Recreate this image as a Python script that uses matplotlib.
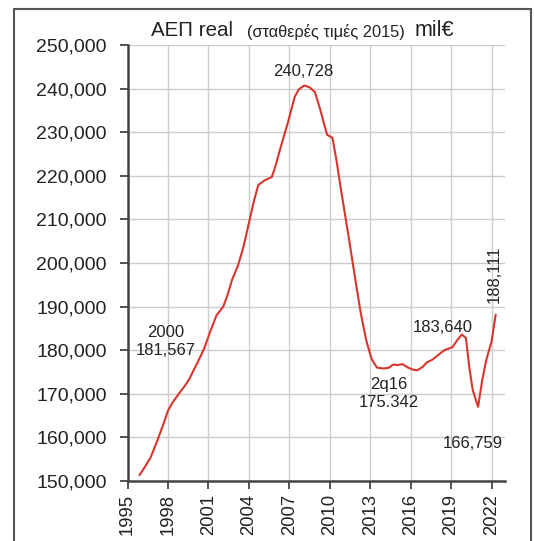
import numpy as np
import matplotlib
matplotlib.use("Agg")
import matplotlib.pyplot as plt
from matplotlib.patches import Rectangle
from matplotlib.ticker import FuncFormatter

plt.rcParams['font.family'] = ['Liberation Sans', 'DejaVu Sans']

# real GDP, constant 2015 prices, mil euro
years = [1995.9, 1996.3, 1996.7, 1997.2, 1997.6, 1998.0, 1998.3, 1998.8, 1999.3, 1999.6,
         2000.0, 2000.4, 2000.7, 2001.1, 2001.6, 2002.1, 2002.4, 2002.75, 2003.2, 2003.6,
         2004.1, 2004.4, 2004.7, 2005.2, 2005.7, 2006.0, 2006.3, 2006.9, 2007.4, 2007.7,
         2008.1, 2008.5, 2008.9, 2009.3, 2009.8, 2010.2, 2010.5, 2010.8, 2011.4, 2011.9,
         2012.3, 2012.7, 2013.1, 2013.5, 2014.0, 2014.4, 2014.7, 2015.0, 2015.4, 2015.8,
         2016.2, 2016.5, 2016.9, 2017.2, 2017.6, 2018.0, 2018.5, 2019.1, 2019.5, 2019.8,
         2020.1, 2020.35, 2020.6, 2021.0, 2021.3, 2021.6, 2022.0, 2022.3]
gdp = [151400, 153300, 155300, 159200, 162500, 166100, 167800, 170000, 172000, 173500,
       176000, 178500, 180500, 184000, 188000, 190000, 192500, 196100, 199500, 203700,
       210500, 214500, 217900, 219000, 219700, 222500, 225900, 232300, 238100, 239800,
       240700, 240300, 239200, 235100, 229400, 228700, 223500, 217400, 206000, 196100,
       188500, 182300, 178000, 176000, 175800, 176000, 176700, 176600, 176800, 176000,
       175500, 175400, 176200, 177200, 177800, 178800, 180000, 180700, 182500, 183600,
       182800, 176000, 170900, 167000, 173000, 177700, 182000, 188100]

xticks = list(range(1995, 2023, 3))
yticks = list(range(150000, 250001, 10000))

fig = plt.figure(figsize=(5.34, 5.41), dpi=100)
ax = fig.add_axes([0.2388, 0.1109, 0.707, 0.806])

ax.plot(years, gdp, color='#d8362c', lw=1.5)

ax.set_xlim(1995, 2023)
ax.set_ylim(150000, 250000)
ax.set_xticks(xticks)
ax.set_yticks(yticks)
ax.yaxis.set_major_formatter(FuncFormatter(lambda v, p: f'{int(v):,}'))
ax.tick_params(axis='y', labelsize=14, colors='#333333', length=6, width=1.2,
               pad=9, labelcolor='#222222')
ax.tick_params(axis='x', labelsize=13.3, colors='#333333', length=6, width=1.2,
               labelrotation=90, labelcolor='#222222')
ax.grid(True, color='#cccccc', lw=1.0)
ax.set_axisbelow(True)
for s in ['top', 'right']:
    ax.spines[s].set_visible(False)
for s in ['left', 'bottom']:
    ax.spines[s].set_color('#444444')
    ax.spines[s].set_linewidth(1.8)

tc = '#222222'
ax.text(2008.0, 243800, '240,728', fontsize=12, ha='center', va='center', color=tc)
ax.text(1997.8, 181900, '2000\n181,567', fontsize=12, ha='center', va='center', color=tc,
        linespacing=1.25)
ax.text(2014.4, 170000, '2q16\n175.342', fontsize=12, ha='center', va='center', color=tc,
        linespacing=1.25)
ax.text(2018.4, 185300, '183,640', fontsize=12, ha='center', va='center', color=tc)
ax.text(2020.6, 158500, '166,759', fontsize=12, ha='center', va='center', color=tc)
ax.text(2022.2, 197500, '188,111', fontsize=12, ha='center', va='center', color=tc,
        rotation=90)

# title in three parts
fig.text(151 / 534, 1 - 31 / 541, 'ΑΕΠ real', fontsize=14.8, va='center', ha='left', color=tc)
fig.text(247 / 534, 1 - 32 / 541, '(σταθερές τιμές 2015)', fontsize=11.8, va='center',
         ha='left', color=tc)
fig.text(415 / 534, 1 - 31 / 541, 'mil€', fontsize=15.5, va='center', ha='left', color=tc)

# outer frame
fig.patches.append(Rectangle((14 / 534, -0.01), (531 - 14) / 534, 1 - 9 / 541 + 0.01,
                             transform=fig.transFigure, fill=False, ec='#555555', lw=1.5))

fig.savefig('out.png', dpi=100)
